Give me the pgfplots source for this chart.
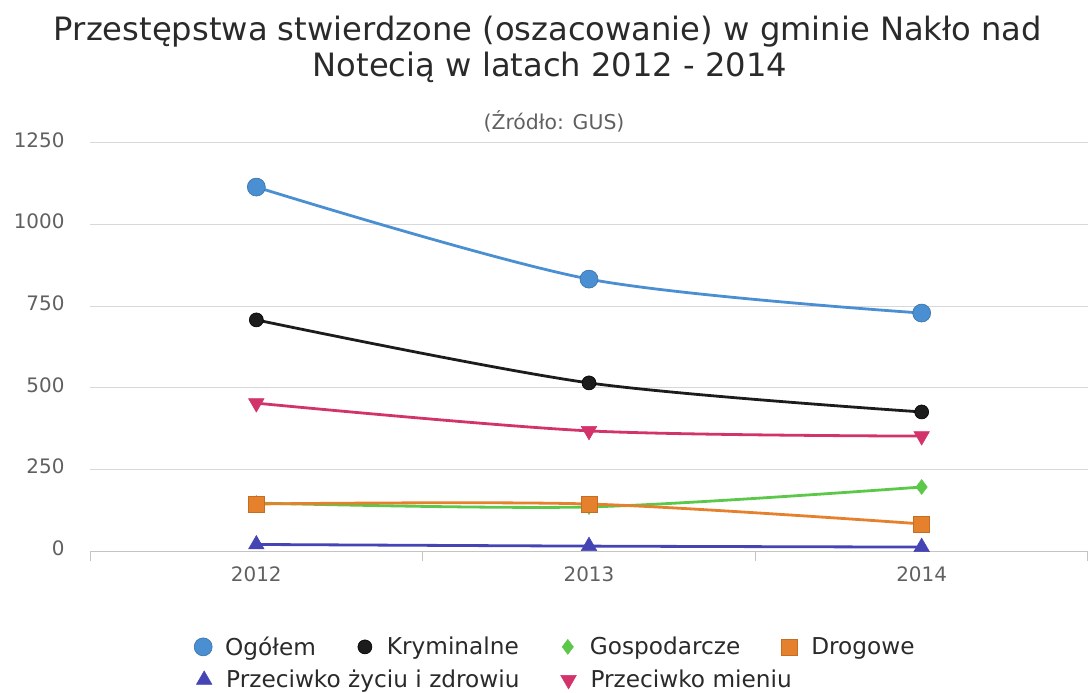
\documentclass[border=0pt]{standalone}
\usepackage{fontspec}
\setmainfont{DejaVu Sans}
\usepackage{pgfplots}
\pgfplotsset{compat=1.18}
\definecolor{ogc}{HTML}{4A8FD2}
\definecolor{krc}{HTML}{1C1C1C}
\definecolor{goc}{HTML}{5CC84A}
\definecolor{drc}{HTML}{E5802C}
\definecolor{zyc}{HTML}{4444B4}
\definecolor{mic}{HTML}{D2336A}
\definecolor{gridc}{HTML}{D8D8D8}
\definecolor{axc}{HTML}{C4C4C4}
\definecolor{tickc}{HTML}{606060}
\definecolor{txtc}{HTML}{2A2A2A}
\pgfplotsset{
  legstyle/.style={
    legend image code/.code={\path[draw=none, fill=none] (-9bp,-9bp) rectangle (9bp,9bp); \draw[##1, sharp plot] plot coordinates {(0bp,0bp)};},
    legend style={draw=none, fill=none, font=\fontsize{23.3}{26}\selectfont\color{txtc},
      legend columns=-1, inner sep=0pt,
      /tikz/every odd column/.append style={column sep=10bp},
      nodes={inner sep=3bp}},
    legend cell align=left,
  },
  every axis plot/.append style={line width=2.8bp},
}
\begin{document}
\begin{tikzpicture}
\begin{axis}[
  at={(90bp,142bp)}, anchor=south west, scale only axis,
  width=998bp, height=408bp,
  xmin=-0.5, xmax=2.5, ymin=0, ymax=1250,
  axis x line*=bottom, axis y line*=left,
  y axis line style={draw=none},
  x axis line style={-, draw=axc, line width=1bp},
  xtick={0,1,2}, xticklabels={2012,2013,2014},
  major x tick style={draw=none},
  extra x ticks={-0.5,0.5,1.5,2.5}, extra x tick labels={},
  extra x tick style={major tick length=10bp, tick align=outside,
    major x tick style={draw=axc, line width=1bp}},
  ytick={0,250,500,750,1000,1250},
  major y tick style={draw=none},
  ymajorgrids, grid style={draw=gridc, line width=1bp},
  /pgf/number format/assume math mode=true,
  /pgf/number format/1000 sep={},
  ticklabel style={font=\fontsize{20}{22}\selectfont, text=tickc},
  yticklabel style={xshift=-22bp, yshift=3bp},
  xticklabel style={yshift=-12bp},
  legstyle,
  legend style={at={(0.1042,-0.235)}, anchor=west,
    /tikz/every even column/.append style={column sep=37bp}},
  clip=false,
]
\addplot[color=ogc, smooth, mark=*, mark size=9bp, mark options={fill=ogc, draw=ogc!80!black, line width=0.6bp}] coordinates {(0,1115) (1,833) (2,729)};
\addlegendentry{Ogółem}
\addplot[color=krc, smooth, mark=*, mark size=7bp, mark options={fill=krc, draw=black, line width=0.6bp}] coordinates {(0,708) (1,515) (2,426)};
\addlegendentry{Kryminalne}
\addplot[color=goc, smooth, mark=diamond*, mark size=7.5bp, mark options={fill=goc, draw=goc, line width=0.5bp}] coordinates {(0,147) (1,135) (2,196)};
\addlegendentry{Gospodarcze}
\addplot[color=drc, smooth, mark=square*, mark size=8bp, mark options={fill=drc, draw=drc!85!black, line width=0.6bp}] coordinates {(0,144) (1,144) (2,83)};
\addlegendentry{Drogowe}
\addplot[color=zyc, smooth, mark=triangle*, mark size=9bp, mark options={fill=zyc, draw=zyc, line width=0.5bp}] coordinates {(0,20) (1,15) (2,12)};
\addplot[color=mic, smooth, mark=triangle*, mark size=9bp, mark options={rotate=180, fill=mic, draw=mic, line width=0.5bp}] coordinates {(0,453) (1,368) (2,352)};
\end{axis}
\begin{axis}[
  at={(90bp,142bp)}, anchor=south west, scale only axis,
  width=998bp, height=408bp,
  xmin=-0.5, xmax=2.5, ymin=0, ymax=1250,
  hide axis,
  legstyle,
  legend style={at={(0.1052,-0.316)}, anchor=west,
    /tikz/every even column/.append style={column sep=37bp}},
]
\addlegendimage{color=zyc, mark=triangle*, mark size=9bp, mark options={fill=zyc, draw=zyc, line width=0.5bp}}
\addlegendentry{Przeciwko życiu i zdrowiu}
\addlegendimage{color=mic, mark=triangle*, mark size=9bp, mark options={rotate=180, fill=mic, draw=mic, line width=0.5bp}}
\addlegendentry{Przeciwko mieniu}
\end{axis}
\node[anchor=base, text=txtc, font=\fontsize{32.3}{38}\selectfont] at (548bp,652bp) {Przestępstwa stwierdzone (oszacowanie) w gminie Nakło nad};
\node[anchor=base, text=txtc, font=\fontsize{32.3}{38}\selectfont] at (550bp,616bp) {Notecią w latach 2012 - 2014};
\node[anchor=base, text=tickc, font=\fontsize{20.5}{23}\selectfont] at (554bp,563bp) {(Źródło: GUS)};
\pgfresetboundingbox
\useasboundingbox (0,0) rectangle (1091bp,693bp);
\end{tikzpicture}
\end{document}
